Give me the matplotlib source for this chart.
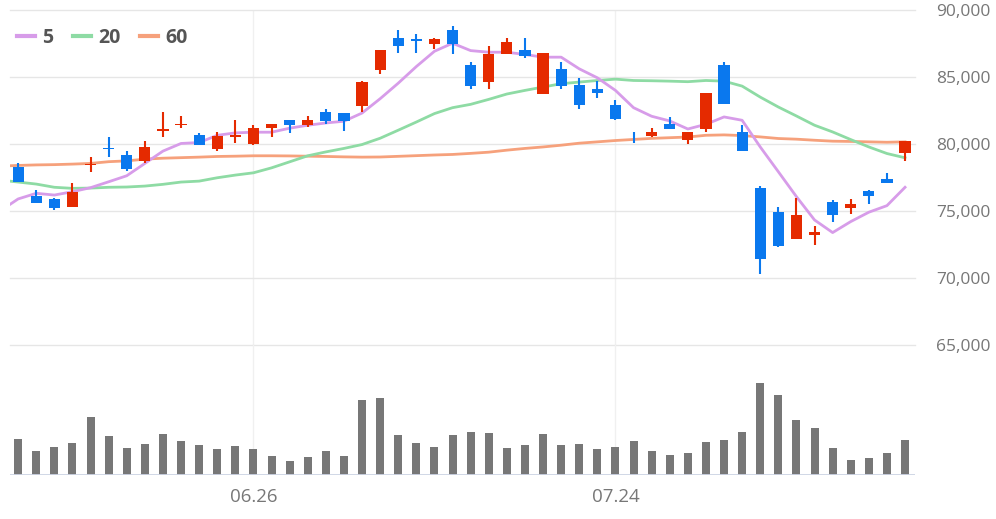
import matplotlib
matplotlib.use("Agg")
import matplotlib.pyplot as plt
import numpy as np

plt.rcParams['font.family'] = ['Open Sans', 'DejaVu Sans']

# daily candles (KRW)
opens = [78300, 76100, 75900, 75300, 78400, 79700, 79200, 78700, 81000, 81400,
         80700, 79600, 80500, 80000, 81200, 81800, 81400, 82400, 82300, 82800,
         85500, 87900, 87800, 87500, 88500, 85900, 84600, 86700, 87000, 83700,
         85600, 84400, 84100, 82900, 80600, 80600, 81500, 80300, 81100, 85900,
         80900, 76700, 74900, 72900, 73200, 75700, 75200, 76500, 77400, 79300]
highs = [78600, 76600, 76000, 77100, 79000, 80500, 79500, 80200, 82400, 82100,
         80800, 80900, 81800, 81400, 81500, 81800, 82100, 82600, 82300, 84700,
         87000, 88500, 88200, 87900, 88800, 86100, 87300, 87900, 87900, 86800,
         86100, 84900, 84700, 83300, 80900, 81200, 82000, 80900, 83800, 86100,
         81400, 76900, 75300, 76000, 73900, 75800, 75900, 76600, 77800, 80200]
lows = [77200, 75600, 75100, 75300, 77900, 79000, 78000, 78600, 80500, 81200,
        79900, 79500, 80100, 79900, 80500, 80800, 81300, 81500, 81000, 82400,
        85200, 86800, 86800, 87100, 86700, 84100, 84100, 86700, 86400, 83700,
        84100, 82600, 83400, 81800, 80100, 80500, 81100, 80000, 80900, 83000,
        79500, 70300, 72300, 72900, 72500, 74200, 74800, 75500, 77100, 78700]
closes = [77200, 75600, 75200, 76400, 78500, 79600, 78100, 79800, 81100, 81500,
          79900, 80600, 80700, 81200, 81500, 81400, 81800, 81700, 81700, 84600,
          87000, 87300, 87700, 87800, 87500, 84300, 86700, 87600, 86600, 86800,
          84300, 82900, 83800, 81900, 80600, 80900, 81100, 80900, 83800, 83000,
          79500, 71400, 72400, 74700, 73400, 74700, 75500, 76100, 77100, 80200]

# moving averages, first value is the day before the window
ma5 = [75000, 75900, 76320, 76190, 76440, 76740, 77180, 77630, 78550, 79470,
       80040, 80110, 80650, 80830, 80880, 80880, 81180, 81400, 81570, 81700,
       82310, 83380, 84540, 85780, 86920, 87520, 86970, 86850, 86850, 86680,
       86480, 86480, 85610, 84940, 84000, 82710, 82070, 81720, 81120, 81470,
       82020, 81770, 79780, 77930, 76070, 74330, 73390, 74210, 74910, 75400,
       76770]
ma20 = [77310, 77160, 77010, 76770, 76690, 76710, 76770, 76790, 76860, 76990,
        77160, 77230, 77480, 77680, 77850, 78220, 78670, 79120, 79410, 79670,
        79960, 80430, 81030, 81640, 82270, 82710, 82960, 83330, 83730, 84000,
        84250, 84500, 84620, 84740, 84840, 84740, 84720, 84690, 84650, 84740,
        84690, 84320, 83500, 82760, 82090, 81400, 80900, 80330, 79780, 79290,
        78970]
ma60 = [78350, 78400, 78440, 78460, 78500, 78550, 78680, 78740, 78870, 78940,
        78980, 79020, 79070, 79090, 79120, 79120, 79110, 79090, 79070, 79040,
        79020, 79030, 79080, 79130, 79180, 79220, 79300, 79390, 79540, 79670,
        79780, 79910, 80060, 80160, 80260, 80340, 80420, 80470, 80520, 80650,
        80680, 80630, 80530, 80410, 80360, 80280, 80210, 80190, 80160, 80130,
        80160]

volume = [108, 73, 84, 97, 174, 117, 81, 93, 123, 102, 90, 78, 87, 78, 57,
          42, 54, 72, 57, 225, 231, 120, 97, 84, 120, 129, 126, 81, 90, 123,
          90, 93, 78, 84, 102, 72, 60, 66, 99, 105, 129, 276, 240, 165, 141,
          81, 45, 51, 66, 105]

tick_pos = [13, 33]
tick_labels = ['06.26', '07.24']
price_ticks = [65000, 70000, 75000, 80000, 85000, 90000]

RED = '#e52a00'
BLUE = '#0a78ee'
W, H = 996, 519

fig = plt.figure(figsize=(W / 100, H / 100), dpi=100)
ax = fig.add_axes([10 / W, 1 - 345 / H, 905 / W, 335 / H])
axv = fig.add_axes([10 / W, 1 - 475 / H, 905 / W, 130 / H], sharex=ax)
axv.set_facecolor('none')

x = np.arange(len(opens))
xm = np.arange(-1, len(opens))

for a in (ax, axv):
    for s in a.spines.values():
        s.set_visible(False)
    for t in tick_pos:
        a.axvline(t, color='#f0f0f0', lw=1, zorder=0)

for p in price_ticks:
    ax.axhline(p, color='#e6e6e6', lw=1, zorder=0, clip_on=False)

ax.plot(xm, ma60, color='#f6a17c', lw=2, zorder=2, label='60')
ax.plot(xm, ma20, color='#8edba4', lw=2, zorder=2, label='20')
ax.plot(xm, ma5, color='#d79ce9', lw=2, zorder=2, label='5')

for i in x:
    o, h, l, c = opens[i], highs[i], lows[i], closes[i]
    col = RED if c > o else BLUE
    ax.vlines(i, l, h, color=col, lw=1.5, zorder=3)
    if c != o:
        ax.bar(i, max(abs(c - o), 60), bottom=min(o, c), width=0.62,
               color=col, zorder=4)

ax.set_xlim(-0.45, 49.55)
ax.set_ylim(65000, 90000)
ax.yaxis.tick_right()
ax.set_yticks(price_ticks)
ax.set_yticklabels([f'{p:,}' for p in price_ticks])
ax.tick_params(axis='y', length=0, pad=15, labelsize=12.5, labelcolor='#777777')
ax.tick_params(axis='x', length=0, labelbottom=False)

handles, labels = ax.get_legend_handles_labels()
leg = ax.legend(handles[::-1], labels[::-1], loc='center left',
                bbox_to_anchor=(7 / 905, 1 - 28 / 335), ncol=3, frameon=False,
                handlelength=0.95, handletextpad=0.35, columnspacing=1.0,
                borderpad=0, borderaxespad=0,
                prop={'size': 14, 'weight': 'bold'})
for t in leg.get_texts():
    t.set_color('#555555')
for ln in leg.get_lines():
    ln.set_linewidth(3)

axv.bar(x, volume, width=0.44, color='#777777', zorder=2)
axv.set_ylim(0, 390)
axv.axhline(0, color='#cdd4e4', lw=1.3, zorder=3)
axv.set_yticks([])
axv.set_xticks(tick_pos)
axv.set_xticklabels(tick_labels)
axv.tick_params(axis='x', length=0, pad=9, labelsize=13.5, labelcolor='#777777')

fig.savefig('out.png', dpi=100)
